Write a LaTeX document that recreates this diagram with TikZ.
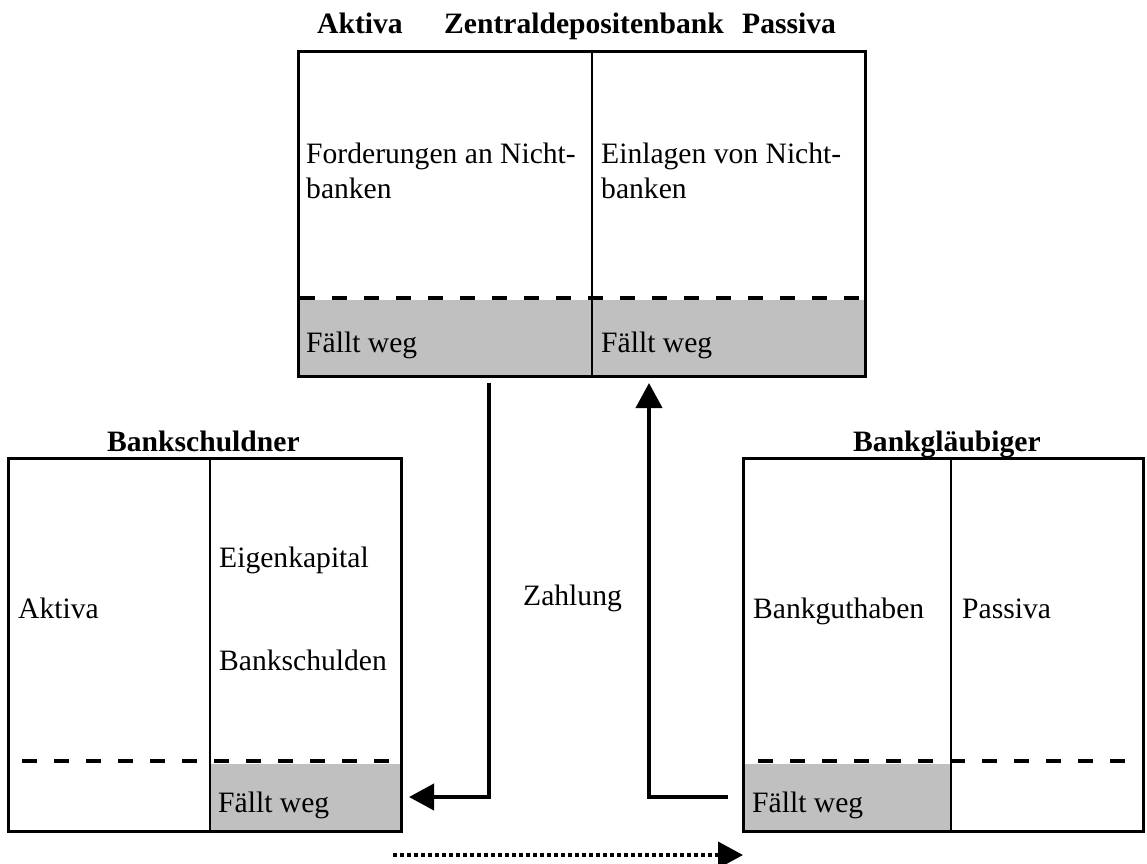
\documentclass[tikz,border=0pt]{standalone}
\usepackage{fontspec}
\setmainfont{Liberation Serif}
\usetikzlibrary{arrows.meta}
\definecolor{fgray}{HTML}{C0C0C0}
\begin{document}
\begin{tikzpicture}[x=1pt,y=-1pt,
  txt/.style={anchor=base west, inner sep=0pt, font=\fontsize{29.6}{35}\selectfont},
  ttl/.style={anchor=base west, inner sep=0pt, font=\fontsize{29.6}{35}\selectfont\bfseries},
  frame/.style={line width=3pt},
  divider/.style={line width=2pt},
  cut/.style={line width=4.5pt, dash pattern=on 15pt off 17pt},
  gone/.style={fill=fgray, draw=none},
  flow/.style={line width=4pt, -{Triangle[length=25pt,width=26pt]}},
  plan/.style={line width=4pt, dash pattern=on 4pt off 3pt, -{Triangle[length=25pt,width=26pt]}}]
\useasboundingbox (0,0) rectangle (1147,863);

% ---------- Zentraldepositenbank ----------
\fill[gone] (298,300) rectangle (865,376);
\draw[cut, dash phase=30pt] (298,298) -- (865,298);
\draw[frame] (298,51) rectangle (865,376);
\draw[divider] (592,51) -- (592,376);
\node[ttl] (tA) at (317,33) {Aktiva};
\node[ttl] (tZ) at (444,33) {Zentraldepositenbank};
\node[ttl] (tP) at (742,33) {Passiva};
\node[txt] (ford1) at (306,163) {Forderungen an Nicht-};
\node[txt] (ford2) at (306,198) {banken};
\node[txt] (einl1) at (601,163) {Einlagen von Nicht-};
\node[txt] (einl2) at (601,198) {banken};
\node[txt] (zfl) at (306,352) {Fällt weg};
\node[txt] (zfr) at (601,352) {Fällt weg};

% ---------- Bankschuldner ----------
\fill[gone] (210,764) rectangle (401,831);
\draw[cut, dash phase=18pt] (8,761) -- (401,761);
\draw[frame] (8,458) rectangle (401,831);
\draw[divider] (210,458) -- (210,831);
\node[ttl] (tS) at (107,451) {Bankschuldner};
\node[txt] (sA) at (18,618) {Aktiva};
\node[txt] (sE) at (219,567) {Eigenkapital};
\node[txt] (sB) at (219,670) {Bankschulden};
\node[txt] (sF) at (218,812) {Fällt weg};

% ---------- Bankgläubiger ----------
\fill[gone] (743,764) rectangle (951,831);
\draw[cut, dash phase=17pt] (743,761) -- (1143,761);
\draw[frame] (743,458) rectangle (1143,831);
\draw[divider] (951,458) -- (951,831);
\node[ttl] (tG) at (853,451) {Bankgläubiger};
\node[txt] (gB) at (753,618) {Bankguthaben};
\node[txt] (gP) at (962,618) {Passiva};
\node[txt] (gF) at (752,812) {Fällt weg};

% ---------- Zahlung ----------
\node[txt] (zahl) at (523,605) {Zahlung};

% connector end points
\coordinate (zOut) at (489,383);
\coordinate (sIn) at (409,797);
\coordinate (gOut) at (728,797);
\coordinate (zIn) at (649,383);
\coordinate (pS) at (393,855);
\coordinate (pG) at (743,855);

\draw[flow] (zOut) |- (sIn);
\draw[flow] (gOut) -| (zIn);
\draw[plan] (pS) -- (pG);
\end{tikzpicture}
\end{document}
